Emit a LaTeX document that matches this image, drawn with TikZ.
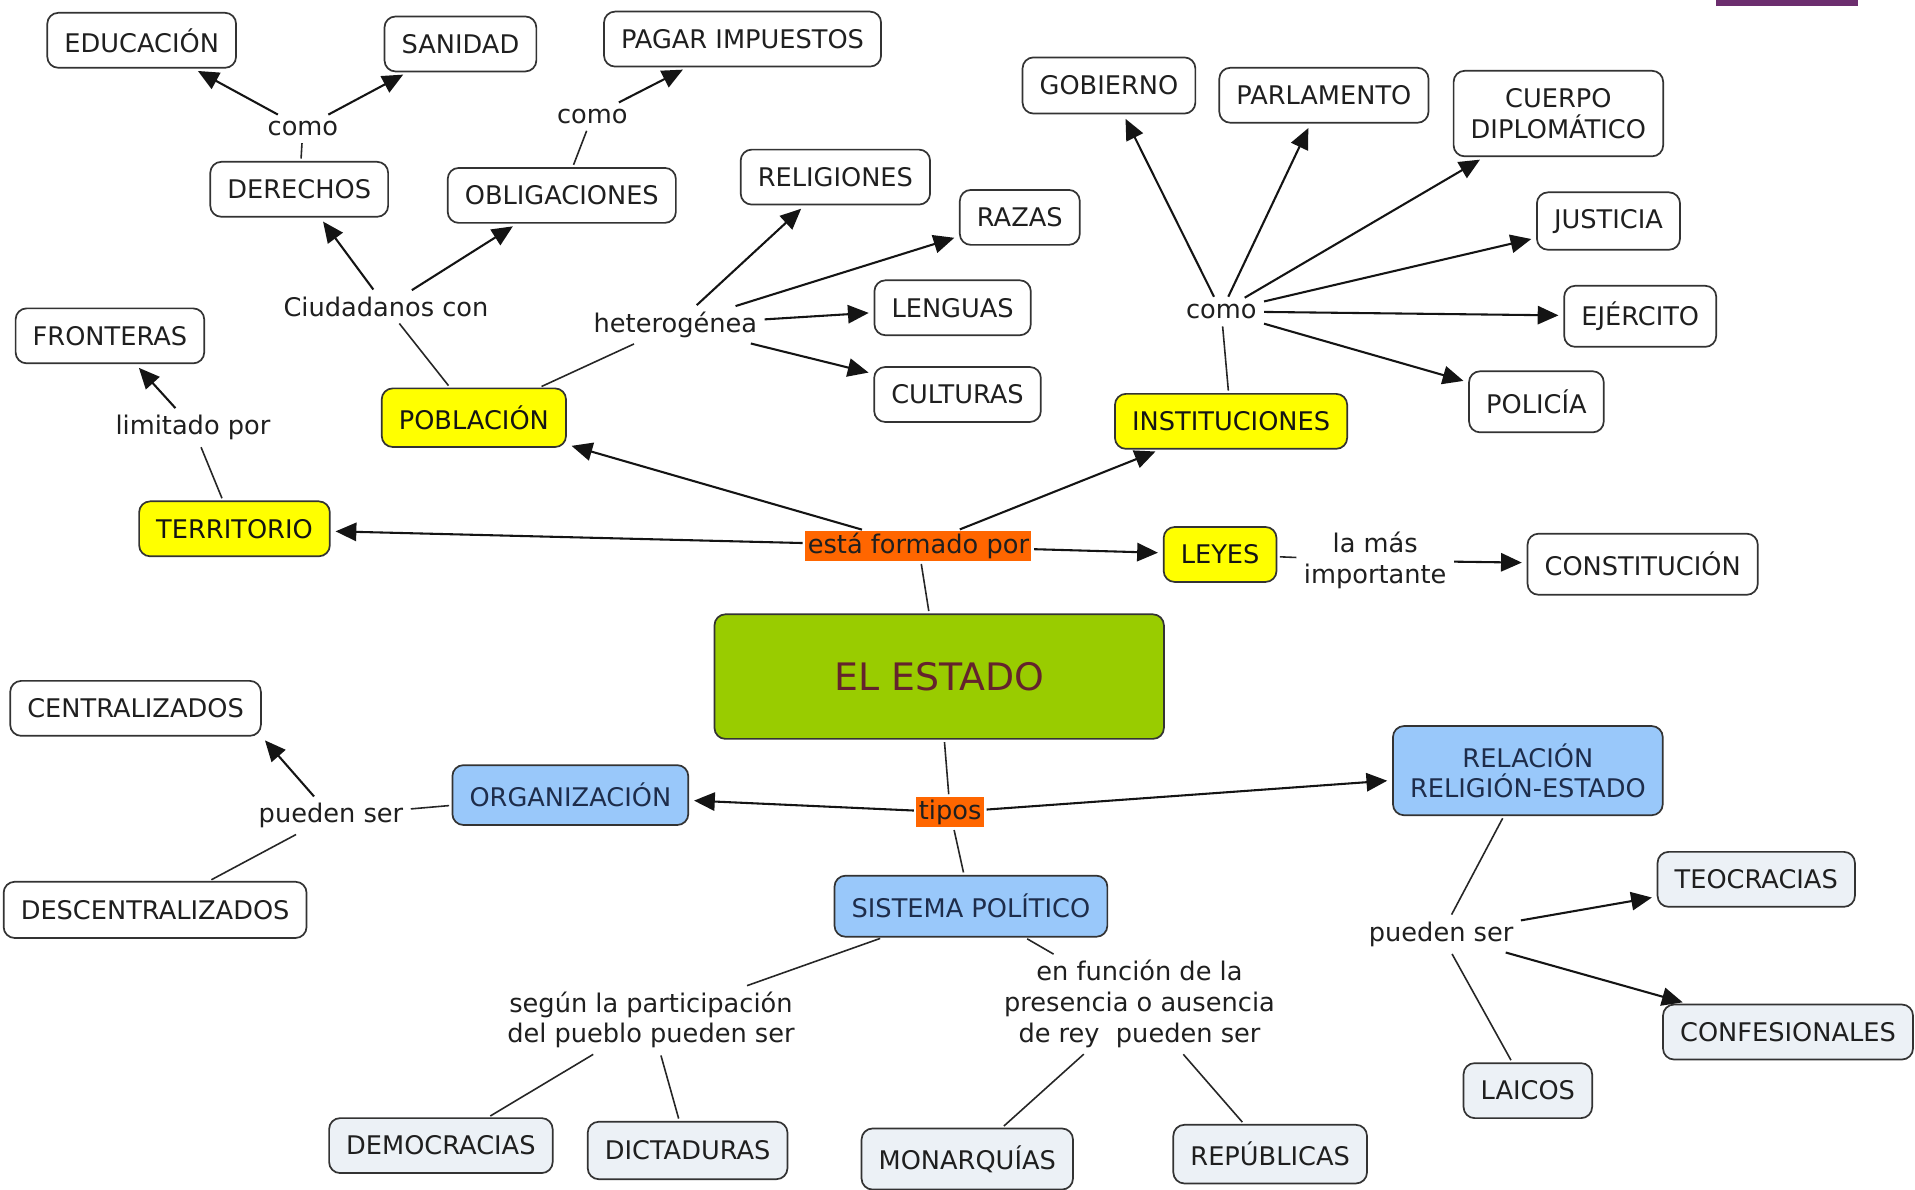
\documentclass[tikz,border=0pt]{standalone}
\usepackage{fontspec}
\setmainfont{DejaVu Sans}
\usetikzlibrary{arrows.meta}

\definecolor{cmapyellow}{RGB}{255,255,0}
\definecolor{cmapblue}{RGB}{153,200,250}
\definecolor{cmapleaf}{RGB}{236,241,246}
\definecolor{cmapgreen}{RGB}{153,204,0}
\definecolor{cmaporange}{RGB}{255,102,0}
\definecolor{cmapmaroon}{RGB}{100,35,45}
\definecolor{cmapnavy}{RGB}{30,45,75}
\definecolor{cmappurple}{RGB}{108,46,110}

\begin{document}
\begin{tikzpicture}[x=1pt,y=-1pt,font=\fontsize{21}{25}\selectfont,>={Triangle[length=17pt,width=15pt]}]
\begin{scope}

\useasboundingbox (0,0) rectangle (1568,973.6);
\fill [white] (0,0) rectangle (1568,973.6);
\fill [cmappurple] (1405,0) rectangle (1521,5);

\tikzstyle{conceptnode} = [minimum height=45pt,inner xsep=14pt,inner ysep=3pt,draw=black!80,line width=1.4pt,fill=white,text=black!88,rounded corners=9pt,align=center];
\tikzstyle{partnode} = [conceptnode,fill=cmapyellow,text=black!92];
\tikzstyle{typenode} = [conceptnode,fill=cmapblue,text=cmapnavy];
\tikzstyle{leafnode} = [conceptnode,fill=cmapleaf];
\tikzstyle{statenode} = [conceptnode,minimum width=368pt,minimum height=102pt,fill=cmapgreen,text=cmapmaroon,font=\fontsize{31}{37}\selectfont];
\tikzstyle{linknode} = [fill=cmaporange,text=black!88,inner xsep=2pt,inner ysep=2pt,minimum height=25pt];
\tikzstyle{phrasenode} = [text=black!88,inner sep=4pt,align=center];
\tikzstyle{plainline} = [line width=1.3pt,draw=black!85,shorten <=2pt,shorten >=2pt];
\tikzstyle{arrowline} = [->,line width=1.7pt,draw=black!92,shorten <=2pt,shorten >=4pt];

\node [statenode] (e1) at (769,554) {EL ESTADO};
\node [linknode] (o1) at (752,447) {está formado por};
\node [linknode] (o2) at (778,665) {tipos};

\node [partnode,minimum height=48pt] (y1) at (388,342) {POBLACIÓN};
\node [partnode] (y2) at (192,433) {TERRITORIO};
\node [partnode] (y3) at (1008,345) {INSTITUCIONES};
\node [partnode] (y4) at (999,454) {LEYES};

\node [conceptnode] (c1) at (116,33) {EDUCACIÓN};
\node [conceptnode] (c2) at (377,36) {SANIDAD};
\node [conceptnode] (c3) at (608,32) {PAGAR IMPUESTOS};
\node [conceptnode] (c4) at (245,155) {DERECHOS};
\node [conceptnode] (c5) at (460,160) {OBLIGACIONES};
\node [conceptnode] (c6) at (684,145) {RELIGIONES};
\node [conceptnode] (c7) at (835,178) {RAZAS};
\node [conceptnode] (c8) at (780,252) {LENGUAS};
\node [conceptnode] (c9) at (784,323) {CULTURAS};
\node [conceptnode] (c10) at (90,275) {FRONTERAS};
\node [conceptnode,minimum height=46pt] (c11) at (908,70) {GOBIERNO};
\node [conceptnode] (c12) at (1084,78) {PARLAMENTO};
\node [conceptnode,minimum height=70pt] (c13) at (1276,93) {CUERPO\\DIPLOMÁTICO};
\node [conceptnode,minimum height=47pt] (c14) at (1317,181) {JUSTICIA};
\node [conceptnode,minimum height=50pt] (c15) at (1343,259) {EJÉRCITO};
\node [conceptnode,minimum height=50pt] (c16) at (1258,329) {POLICÍA};
\node [conceptnode,minimum height=50pt] (c17) at (1345,462) {CONSTITUCIÓN};
\node [conceptnode] (c18) at (111,580) {CENTRALIZADOS};
\node [conceptnode,minimum height=46pt] (c19) at (127,745) {DESCENTRALIZADOS};

\node [typenode,minimum height=49pt] (b1) at (467,651) {ORGANIZACIÓN};
\node [typenode,minimum height=50pt] (b2) at (795,742) {SISTEMA POLÍTICO};
\node [typenode,minimum height=73pt] (b3) at (1251,631) {RELACIÓN\\RELIGIÓN-ESTADO};

\node [leafnode] (g1) at (361,938) {DEMOCRACIAS};
\node [leafnode,minimum height=47pt] (g2) at (563,942) {DICTADURAS};
\node [leafnode,minimum height=50pt] (g3) at (792,949) {MONARQUÍAS};
\node [leafnode,minimum height=48pt] (g4) at (1040,945) {REPÚBLICAS};
\node [leafnode] (g5) at (1251,893) {LAICOS};
\node [leafnode] (g6) at (1438,720) {TEOCRACIAS};
\node [leafnode] (g7) at (1464,845) {CONFESIONALES};

\node [phrasenode] (l1) at (248,105) {como};
\node [phrasenode] (l2) at (485,95) {como};
\node [phrasenode] (l3) at (316,251) {Ciudadanos con};
\node [phrasenode] (l4) at (553,266) {heterogénea};
\node [phrasenode] (l5) at (158,350) {limitado por};
\node [phrasenode] (l6) at (1000,255) {como};
\node [phrasenode] (l7) at (1126,459) {la más\\importante};
\node [phrasenode] (l8) at (271,668) {pueden ser};
\node [phrasenode] (l9) at (533,835) {según la participación\\del pueblo pueden ser};
\node [phrasenode] (l10) at (933,822) {en función de la\\presencia o ausencia\\de rey~ pueden ser};
\node [phrasenode] (l11) at (1180,765) {pueden ser};

\draw [plainline] (c4) -- (l1);
\draw [arrowline] (l1) -- (c1);
\draw [arrowline] (l1) -- (c2);
\draw [plainline] (c5) -- (l2);
\draw [arrowline] (l2) -- (c3);

\draw [plainline] (y1) -- (l3);
\draw [arrowline] (l3) -- (c4);
\draw [arrowline] (l3) -- (c5);
\draw [plainline] (y1) -- (l4);
\draw [arrowline] (l4) -- (c6);
\draw [arrowline] (l4) -- (c7);
\draw [arrowline] (l4) -- (c8);
\draw [arrowline] (l4) -- (c9);

\draw [plainline] (y2) -- (l5);
\draw [arrowline] (l5) -- (c10);

\draw [plainline] (e1) -- (o1);
\draw [arrowline] (o1) -- (y1);
\draw [arrowline] (o1) -- (y2);
\draw [arrowline] (o1) -- (y3);
\draw [arrowline] (o1) -- (y4);

\draw [plainline] (y3) -- (l6);
\draw [arrowline] (l6) -- (c11);
\draw [arrowline] (l6) -- (c12);
\draw [arrowline] (l6) -- (c13);
\draw [arrowline] (l6) -- (c14);
\draw [arrowline] (l6) -- (c15);
\draw [arrowline] (l6) -- (c16);

\draw [plainline] (y4) -- (l7);
\draw [arrowline] (l7) -- (c17);

\draw [plainline] (e1) -- (o2);
\draw [arrowline] (o2) -- (b1);
\draw [arrowline] (o2) -- (b3);
\draw [plainline] (o2) -- (b2);

\draw [plainline] (b1) -- (l8);
\draw [arrowline] (l8) -- (c18.south east);
\draw [plainline] (l8) -- (c19);

\draw [plainline] (b2) -- (l9);
\draw [plainline] (l9) -- (g1);
\draw [plainline] (l9) -- (g2);
\draw [plainline] (b2) -- (l10);
\draw [plainline] (l10) -- (g3);
\draw [plainline] (l10) -- (g4);

\draw [plainline] (b3) -- (l11);
\draw [arrowline] (l11) -- (g6);
\draw [arrowline] (l11) -- (g7);
\draw [plainline] (l11) -- (g5);

\end{scope}
\end{tikzpicture}
\end{document}
